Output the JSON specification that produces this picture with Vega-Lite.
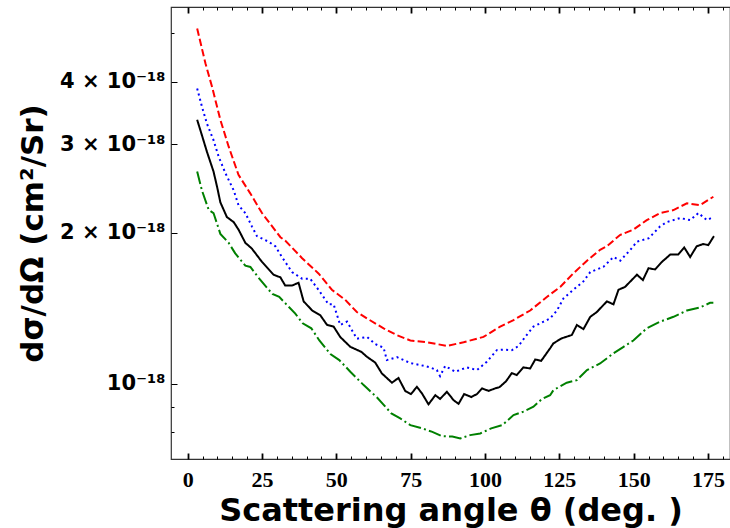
{
"$schema":"https://vega.github.io/schema/vega-lite/v6.json",
"width":559,"height":452,
"autosize":{"type":"none"},
"padding":{"left":171,"top":7,"right":0,"bottom":69},
"background":"white",
"config":{"view":{"stroke":"#333333","strokeWidth":1.2}},
"data":{"values":[
{"series":"A","angle":3.2,"dsdo":5.11e-18},{"series":"A","angle":6.0,"dsdo":4.35e-18},{"series":"A","angle":8.2,"dsdo":3.91e-18},{"series":"A","angle":11.0,"dsdo":3.36e-18},{"series":"A","angle":13.8,"dsdo":2.97e-18},{"series":"A","angle":17.1,"dsdo":2.61e-18},{"series":"A","angle":21.0,"dsdo":2.40e-18},{"series":"A","angle":25.0,"dsdo":2.19e-18},{"series":"A","angle":31.2,"dsdo":1.96e-18},{"series":"A","angle":32.8,"dsdo":1.93e-18},{"series":"A","angle":38.5,"dsdo":1.78e-18},{"series":"A","angle":44.0,"dsdo":1.66e-18},{"series":"A","angle":48.5,"dsdo":1.54e-18},{"series":"A","angle":53.0,"dsdo":1.47e-18},{"series":"A","angle":56.9,"dsdo":1.39e-18},{"series":"A","angle":60.3,"dsdo":1.35e-18},{"series":"A","angle":65.9,"dsdo":1.29e-18},{"series":"A","angle":70.4,"dsdo":1.25e-18},{"series":"A","angle":74.9,"dsdo":1.22e-18},{"series":"A","angle":80.5,"dsdo":1.21e-18},{"series":"A","angle":87.2,"dsdo":1.19e-18},{"series":"A","angle":92.8,"dsdo":1.21e-18},{"series":"A","angle":99.5,"dsdo":1.24e-18},{"series":"A","angle":105.1,"dsdo":1.30e-18},{"series":"A","angle":109.6,"dsdo":1.34e-18},{"series":"A","angle":115.2,"dsdo":1.40e-18},{"series":"A","angle":120.8,"dsdo":1.49e-18},{"series":"A","angle":125.3,"dsdo":1.56e-18},{"series":"A","angle":129.7,"dsdo":1.66e-18},{"series":"A","angle":134.3,"dsdo":1.76e-18},{"series":"A","angle":138.7,"dsdo":1.85e-18},{"series":"A","angle":141.0,"dsdo":1.88e-18},{"series":"A","angle":145.4,"dsdo":1.98e-18},{"series":"A","angle":149.9,"dsdo":2.03e-18},{"series":"A","angle":154.4,"dsdo":2.12e-18},{"series":"A","angle":158.9,"dsdo":2.19e-18},{"series":"A","angle":163.4,"dsdo":2.22e-18},{"series":"A","angle":167.9,"dsdo":2.29e-18},{"series":"A","angle":172.3,"dsdo":2.27e-18},{"series":"A","angle":176.8,"dsdo":2.36e-18},
{"series":"B","angle":3.2,"dsdo":3.88e-18},{"series":"B","angle":4.8,"dsdo":3.57e-18},{"series":"B","angle":6.5,"dsdo":3.30e-18},{"series":"B","angle":8.7,"dsdo":3.06e-18},{"series":"B","angle":10.4,"dsdo":2.84e-18},{"series":"B","angle":12.7,"dsdo":2.63e-18},{"series":"B","angle":15.5,"dsdo":2.43e-18},{"series":"B","angle":17.1,"dsdo":2.27e-18},{"series":"B","angle":19.4,"dsdo":2.19e-18},{"series":"B","angle":21.6,"dsdo":2.06e-18},{"series":"B","angle":23.3,"dsdo":1.97e-18},{"series":"B","angle":27.2,"dsdo":1.92e-18},{"series":"B","angle":29.5,"dsdo":1.88e-18},{"series":"B","angle":31.7,"dsdo":1.79e-18},{"series":"B","angle":35.1,"dsdo":1.67e-18},{"series":"B","angle":38.5,"dsdo":1.62e-18},{"series":"B","angle":41.2,"dsdo":1.62e-18},{"series":"B","angle":44.0,"dsdo":1.54e-18},{"series":"B","angle":47.4,"dsdo":1.44e-18},{"series":"B","angle":49.1,"dsdo":1.44e-18},{"series":"B","angle":51.3,"dsdo":1.31e-18},{"series":"B","angle":53.6,"dsdo":1.33e-18},{"series":"B","angle":56.9,"dsdo":1.23e-18},{"series":"B","angle":60.3,"dsdo":1.24e-18},{"series":"B","angle":63.1,"dsdo":1.20e-18},{"series":"B","angle":65.9,"dsdo":1.18e-18},{"series":"B","angle":67.0,"dsdo":1.115e-18},{"series":"B","angle":70.4,"dsdo":1.13e-18},{"series":"B","angle":74.9,"dsdo":1.10e-18},{"series":"B","angle":78.2,"dsdo":1.09e-18},{"series":"B","angle":81.6,"dsdo":1.078e-18},{"series":"B","angle":83.8,"dsdo":1.065e-18},{"series":"B","angle":84.9,"dsdo":1.036e-18},{"series":"B","angle":86.6,"dsdo":1.085e-18},{"series":"B","angle":90.0,"dsdo":1.057e-18},{"series":"B","angle":93.9,"dsdo":1.078e-18},{"series":"B","angle":97.3,"dsdo":1.065e-18},{"series":"B","angle":100.6,"dsdo":1.106e-18},{"series":"B","angle":104.0,"dsdo":1.167e-18},{"series":"B","angle":106.2,"dsdo":1.17e-18},{"series":"B","angle":109.0,"dsdo":1.167e-18},{"series":"B","angle":111.3,"dsdo":1.19e-18},{"series":"B","angle":113.5,"dsdo":1.24e-18},{"series":"B","angle":116.3,"dsdo":1.30e-18},{"series":"B","angle":119.7,"dsdo":1.33e-18},{"series":"B","angle":121.9,"dsdo":1.35e-18},{"series":"B","angle":124.2,"dsdo":1.40e-18},{"series":"B","angle":126.4,"dsdo":1.48e-18},{"series":"B","angle":129.7,"dsdo":1.54e-18},{"series":"B","angle":133.1,"dsdo":1.60e-18},{"series":"B","angle":135.4,"dsdo":1.67e-18},{"series":"B","angle":139.8,"dsdo":1.71e-18},{"series":"B","angle":143.2,"dsdo":1.79e-18},{"series":"B","angle":145.5,"dsdo":1.76e-18},{"series":"B","angle":148.9,"dsdo":1.85e-18},{"series":"B","angle":151.1,"dsdo":1.92e-18},{"series":"B","angle":155.0,"dsdo":1.95e-18},{"series":"B","angle":158.9,"dsdo":2.06e-18},{"series":"B","angle":161.1,"dsdo":2.10e-18},{"series":"B","angle":165.6,"dsdo":2.14e-18},{"series":"B","angle":169.0,"dsdo":2.12e-18},{"series":"B","angle":171.8,"dsdo":2.19e-18},{"series":"B","angle":174.6,"dsdo":2.12e-18},{"series":"B","angle":176.8,"dsdo":2.15e-18},
{"series":"C","angle":3.2,"dsdo":3.36e-18},{"series":"C","angle":4.8,"dsdo":3.13e-18},{"series":"C","angle":6.5,"dsdo":2.90e-18},{"series":"C","angle":8.7,"dsdo":2.65e-18},{"series":"C","angle":9.9,"dsdo":2.47e-18},{"series":"C","angle":11.0,"dsdo":2.30e-18},{"series":"C","angle":13.2,"dsdo":2.15e-18},{"series":"C","angle":15.5,"dsdo":2.10e-18},{"series":"C","angle":17.1,"dsdo":2.03e-18},{"series":"C","angle":19.4,"dsdo":1.91e-18},{"series":"C","angle":21.6,"dsdo":1.86e-18},{"series":"C","angle":25.0,"dsdo":1.75e-18},{"series":"C","angle":28.9,"dsdo":1.65e-18},{"series":"C","angle":31.2,"dsdo":1.63e-18},{"series":"C","angle":32.8,"dsdo":1.57e-18},{"series":"C","angle":35.1,"dsdo":1.57e-18},{"series":"C","angle":37.3,"dsdo":1.59e-18},{"series":"C","angle":39.0,"dsdo":1.46e-18},{"series":"C","angle":41.9,"dsdo":1.40e-18},{"series":"C","angle":44.6,"dsdo":1.37e-18},{"series":"C","angle":46.9,"dsdo":1.31e-18},{"series":"C","angle":49.1,"dsdo":1.30e-18},{"series":"C","angle":51.3,"dsdo":1.24e-18},{"series":"C","angle":54.7,"dsdo":1.185e-18},{"series":"C","angle":58.4,"dsdo":1.158e-18},{"series":"C","angle":60.3,"dsdo":1.132e-18},{"series":"C","angle":63.1,"dsdo":1.102e-18},{"series":"C","angle":65.3,"dsdo":1.049e-18},{"series":"C","angle":68.7,"dsdo":1.005e-18},{"series":"C","angle":70.9,"dsdo":1.027e-18},{"series":"C","angle":73.2,"dsdo":0.967e-18},{"series":"C","angle":75.1,"dsdo":0.954e-18},{"series":"C","angle":77.1,"dsdo":0.986e-18},{"series":"C","angle":78.8,"dsdo":0.957e-18},{"series":"C","angle":81.0,"dsdo":0.910e-18},{"series":"C","angle":83.3,"dsdo":0.949e-18},{"series":"C","angle":84.9,"dsdo":0.933e-18},{"series":"C","angle":87.2,"dsdo":0.964e-18},{"series":"C","angle":89.4,"dsdo":0.928e-18},{"series":"C","angle":91.1,"dsdo":0.912e-18},{"series":"C","angle":93.0,"dsdo":0.954e-18},{"series":"C","angle":95.4,"dsdo":0.941e-18},{"series":"C","angle":97.3,"dsdo":0.954e-18},{"series":"C","angle":99.0,"dsdo":0.979e-18},{"series":"C","angle":101.2,"dsdo":0.968e-18},{"series":"C","angle":103.4,"dsdo":0.979e-18},{"series":"C","angle":104.9,"dsdo":0.985e-18},{"series":"C","angle":107.1,"dsdo":1.012e-18},{"series":"C","angle":109.0,"dsdo":1.05e-18},{"series":"C","angle":110.7,"dsdo":1.041e-18},{"series":"C","angle":112.9,"dsdo":1.078e-18},{"series":"C","angle":115.2,"dsdo":1.073e-18},{"series":"C","angle":116.9,"dsdo":1.118e-18},{"series":"C","angle":118.9,"dsdo":1.111e-18},{"series":"C","angle":121.9,"dsdo":1.177e-18},{"series":"C","angle":123.0,"dsdo":1.204e-18},{"series":"C","angle":125.8,"dsdo":1.232e-18},{"series":"C","angle":129.2,"dsdo":1.251e-18},{"series":"C","angle":130.9,"dsdo":1.31e-18},{"series":"C","angle":133.1,"dsdo":1.285e-18},{"series":"C","angle":135.4,"dsdo":1.36e-18},{"series":"C","angle":137.6,"dsdo":1.39e-18},{"series":"C","angle":141.0,"dsdo":1.46e-18},{"series":"C","angle":143.2,"dsdo":1.44e-18},{"series":"C","angle":144.9,"dsdo":1.54e-18},{"series":"C","angle":147.1,"dsdo":1.56e-18},{"series":"C","angle":151.1,"dsdo":1.65e-18},{"series":"C","angle":153.1,"dsdo":1.61e-18},{"series":"C","angle":155.0,"dsdo":1.70e-18},{"series":"C","angle":157.2,"dsdo":1.69e-18},{"series":"C","angle":159.5,"dsdo":1.75e-18},{"series":"C","angle":162.3,"dsdo":1.81e-18},{"series":"C","angle":165.0,"dsdo":1.81e-18},{"series":"C","angle":167.0,"dsdo":1.87e-18},{"series":"C","angle":169.0,"dsdo":1.79e-18},{"series":"C","angle":171.2,"dsdo":1.88e-18},{"series":"C","angle":173.4,"dsdo":1.90e-18},{"series":"C","angle":175.1,"dsdo":1.89e-18},{"series":"C","angle":177.0,"dsdo":1.97e-18},
{"series":"D","angle":3.2,"dsdo":2.65e-18},{"series":"D","angle":4.8,"dsdo":2.43e-18},{"series":"D","angle":7.1,"dsdo":2.22e-18},{"series":"D","angle":8.7,"dsdo":2.19e-18},{"series":"D","angle":11.0,"dsdo":1.99e-18},{"series":"D","angle":13.8,"dsdo":1.91e-18},{"series":"D","angle":16.0,"dsdo":1.82e-18},{"series":"D","angle":19.4,"dsdo":1.72e-18},{"series":"D","angle":21.1,"dsdo":1.71e-18},{"series":"D","angle":24.1,"dsdo":1.62e-18},{"series":"D","angle":28.5,"dsdo":1.51e-18},{"series":"D","angle":30.8,"dsdo":1.49e-18},{"series":"D","angle":33.2,"dsdo":1.44e-18},{"series":"D","angle":36.2,"dsdo":1.38e-18},{"series":"D","angle":38.7,"dsdo":1.32e-18},{"series":"D","angle":41.6,"dsdo":1.29e-18},{"series":"D","angle":44.3,"dsdo":1.22e-18},{"series":"D","angle":48.0,"dsdo":1.146e-18},{"series":"D","angle":51.0,"dsdo":1.115e-18},{"series":"D","angle":54.7,"dsdo":1.057e-18},{"series":"D","angle":59.2,"dsdo":0.994e-18},{"series":"D","angle":63.7,"dsdo":0.939e-18},{"series":"D","angle":68.5,"dsdo":0.873e-18},{"series":"D","angle":71.5,"dsdo":0.853e-18},{"series":"D","angle":74.9,"dsdo":0.827e-18},{"series":"D","angle":78.8,"dsdo":0.815e-18},{"series":"D","angle":82.3,"dsdo":0.802e-18},{"series":"D","angle":85.6,"dsdo":0.786e-18},{"series":"D","angle":89.0,"dsdo":0.785e-18},{"series":"D","angle":91.7,"dsdo":0.778e-18},{"series":"D","angle":95.0,"dsdo":0.790e-18},{"series":"D","angle":98.4,"dsdo":0.796e-18},{"series":"D","angle":102.1,"dsdo":0.815e-18},{"series":"D","angle":105.8,"dsdo":0.827e-18},{"series":"D","angle":109.6,"dsdo":0.866e-18},{"series":"D","angle":112.9,"dsdo":0.880e-18},{"series":"D","angle":116.3,"dsdo":0.900e-18},{"series":"D","angle":119.1,"dsdo":0.932e-18},{"series":"D","angle":121.9,"dsdo":0.949e-18},{"series":"D","angle":123.0,"dsdo":0.971e-18},{"series":"D","angle":127.5,"dsdo":1.005e-18},{"series":"D","angle":130.9,"dsdo":1.017e-18},{"series":"D","angle":134.3,"dsdo":1.065e-18},{"series":"D","angle":138.7,"dsdo":1.098e-18},{"series":"D","angle":143.2,"dsdo":1.15e-18},{"series":"D","angle":146.6,"dsdo":1.185e-18},{"series":"D","angle":149.9,"dsdo":1.22e-18},{"series":"D","angle":154.4,"dsdo":1.29e-18},{"series":"D","angle":158.9,"dsdo":1.33e-18},{"series":"D","angle":163.4,"dsdo":1.36e-18},{"series":"D","angle":167.9,"dsdo":1.40e-18},{"series":"D","angle":172.3,"dsdo":1.42e-18},{"series":"D","angle":175.7,"dsdo":1.45e-18},{"series":"D","angle":176.8,"dsdo":1.45e-18}
]},
"layer":[
{"mark":{"type":"line","strokeWidth":2,"strokeCap":"butt"},
 "encoding":{
  "x":{"field":"angle","type":"quantitative",
   "scale":{"domain":[-5.6,182.4],"nice":false,"zero":false},
   "axis":{"orient":"bottom","values":[0,5,10,15,20,25,30,35,40,45,50,55,60,65,70,75,80,85,90,95,100,105,110,115,120,125,130,135,140,145,150,155,160,165,170,175,180],
    "domain":false,"grid":false,"tickColor":"black",
    "tickSize":{"condition":{"test":"datum.value % 25 === 0","value":-6},"value":-3},
    "tickWidth":{"condition":{"test":"datum.value % 25 === 0","value":1.8},"value":1},
    "labelExpr":"datum.value % 25 === 0 ? datum.label : ''",
    "labelOverlap":false,"labelFlush":false,
    "labelFont":"Liberation Serif","labelFontWeight":"bold","labelFontSize":22,"labelColor":"black","labelPadding":16,
    "title":"Scattering angle θ (deg. )","titleFont":"DejaVu Sans","titleFontSize":32,"titleFontWeight":"bold","titleColor":"black",
    "titleY":61,"titleBaseline":"alphabetic"}},
  "y":{"field":"dsdo","type":"quantitative",
   "scale":{"type":"log","domain":[7.08e-19,5.64e-18],"nice":false},
   "axis":{"values":[8e-19,9e-19,1e-18,2e-18,3e-18,4e-18,5e-18],
    "domain":false,"grid":false,"tickColor":"black","tickWidth":1,
    "tickSize":{"condition":{"test":"datum.value < 9.5e-19 || datum.value > 4.5e-18","value":-3},"value":-6},
    "labelExpr":"datum.value < 9.5e-19 || datum.value > 4.5e-18 ? '' : (datum.value < 1.5e-18 ? '10⁻¹⁸' : format(round(datum.value*1e18),'d') + ' × 10⁻¹⁸')",
    "labelOverlap":false,"labelFlush":false,
    "labelFont":"DejaVu Sans","labelFontWeight":"bold","labelFontSize":21,"labelColor":"black","labelPadding":12,
    "title":"dσ/dΩ (cm²/Sr)","titleFont":"DejaVu Sans","titleFontSize":31,"titleFontWeight":"bold","titleColor":"black",
    "titleX":-129,"titleY":226,"titleBaseline":"alphabetic","titleAlign":"center","titleAngle":270}},
  "color":{"field":"series","type":"nominal","scale":{"domain":["A","B","C","D"],"range":["#ff0000","#0000ff","#000000","#008000"]},"legend":null},
  "strokeDash":{"field":"series","type":"nominal","scale":{"domain":["A","B","C","D"],"range":[[7.4,3.2],[2,3.3],[1,0],[12.8,3.2,2,3.2]]},"legend":null}
 }},
{"mark":{"type":"line","opacity":0},
 "encoding":{
  "x":{"field":"angle","type":"quantitative",
   "axis":{"orient":"top","values":[0,5,10,15,20,25,30,35,40,45,50,55,60,65,70,75,80,85,90,95,100,105,110,115,120,125,130,135,140,145,150,155,160,165,170,175,180],
    "domain":false,"grid":false,"labels":false,"title":null,"tickColor":"black",
    "tickSize":{"condition":{"test":"datum.value % 25 === 0","value":-6},"value":-3},
    "tickWidth":{"condition":{"test":"datum.value % 25 === 0","value":1.8},"value":1}}},
  "y":{"field":"dsdo","type":"quantitative","axis":null},
  "detail":{"field":"series"}
 }}
],
"resolve":{"axis":{"x":"independent","y":"independent"}}
}
